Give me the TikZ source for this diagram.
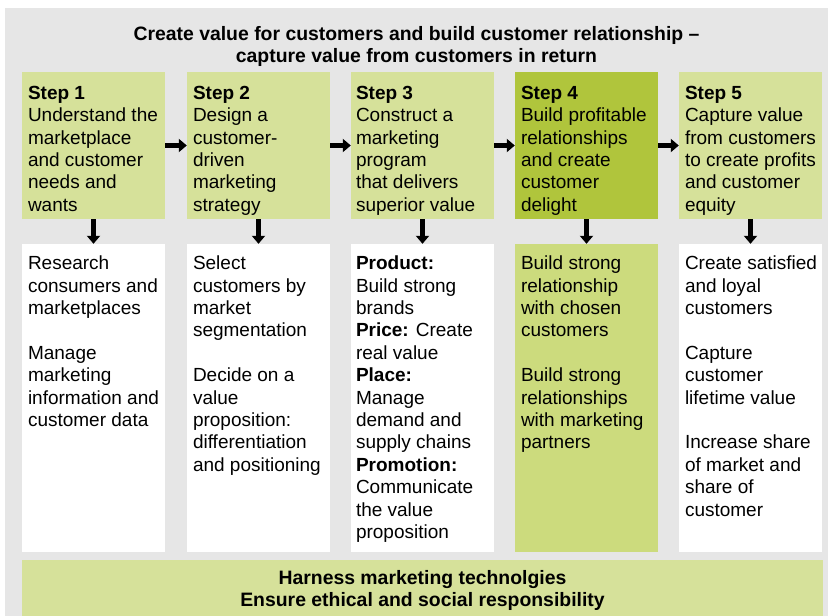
\documentclass[tikz,border=0pt]{standalone}
\usepackage{fontspec}
\setmainfont{Liberation Sans}
\usepackage{tikz}
\usetikzlibrary{positioning, arrows.meta}

\definecolor{bggray}{RGB}{230,230,230}
\definecolor{lightgreen}{RGB}{214,225,154}
\definecolor{midgreen}{RGB}{204,219,125}
\definecolor{darkgreen}{RGB}{176,197,60}

\begin{document}
\begin{tikzpicture}[x=1pt, y=-1pt,
    topbox/.style={rectangle, fill=lightgreen, minimum width=143pt, minimum height=147pt, inner sep=0pt},
    lowbox/.style={rectangle, fill=white, minimum width=143pt, minimum height=308pt, inner sep=0pt},
    boxtext/.style={align=left, inner sep=0pt, font=\fontsize{19}{22.4}\selectfont},
    headtext/.style={align=center, font=\bfseries\fontsize{19.4}{22.4}\selectfont},
    flow/.style={line width=4.5pt, -{Triangle[length=8pt, width=13pt]}}]
            \useasboundingbox (0,0) rectangle (831,616);
            \fill[bggray] (5,8) rectangle (828,616);

            \node[headtext] (title) at (416.5, 46.5) {Create value for customers and build customer relationship --\\capture value from customers in return};

            \node[topbox] (s1) at (93.5, 145.5) {};
            \node[topbox] (s2) at (258.5, 145.5) {};
            \node[topbox] (s3) at (422.5, 145.5) {};
            \node[topbox, fill=darkgreen] (s4) at (586.5, 145.5) {};
            \node[topbox] (s5) at (750.5, 145.5) {};

            \node[lowbox] (b1) at (93.5, 398) {};
            \node[lowbox] (b2) at (258.5, 398) {};
            \node[lowbox] (b3) at (422.5, 398) {};
            \node[lowbox, fill=midgreen] (b4) at (586.5, 398) {};
            \node[lowbox] (b5) at (750.5, 398) {};

            \node[boxtext, below right=14pt and 6pt of s1.north west] (t1) {\textbf{Step 1}\\Understand the\\marketplace\\and customer\\needs and\\wants};
            \node[boxtext, below right=14pt and 6pt of s2.north west] (t2) {\textbf{Step 2}\\Design a\\customer-\\driven\\marketing\\strategy};
            \node[boxtext, below right=14pt and 5pt of s3.north west] (t3) {\textbf{Step 3}\\Construct a\\marketing\\program\\that delivers\\superior value};
            \node[boxtext, below right=14pt and 6pt of s4.north west] (t4) {\textbf{Step 4}\\Build profitable\\relationships\\and create\\customer\\delight};
            \node[boxtext, below right=14pt and 6pt of s5.north west] (t5) {\textbf{Step 5}\\Capture value\\from customers\\to create profits\\and customer\\equity};

            \node[boxtext, below right=12pt and 6pt of b1.north west] (u1) {Research\\consumers and\\marketplaces\\[22.4pt]Manage\\marketing\\information and\\customer data};
            \node[boxtext, below right=12pt and 6pt of b2.north west] (u2) {Select\\customers by\\market\\segmentation\\[22.4pt]Decide on a\\value\\proposition:\\differentiation\\and positioning};
            \node[boxtext, below right=12pt and 5pt of b3.north west] (u3) {\textbf{Product:}\\Build strong\\brands\\\textbf{Price:} Create\\real value\\\textbf{Place:}\\Manage\\demand and\\supply chains\\\textbf{Promotion:}\\Communicate\\the value\\proposition};
            \node[boxtext, below right=12pt and 6pt of b4.north west] (u4) {Build strong\\relationship\\with chosen\\customers\\[22.4pt]Build strong\\relationships\\with marketing\\partners};
            \node[boxtext, below right=12pt and 6pt of b5.north west] (u5) {Create satisfied\\and loyal\\customers\\[22.4pt]Capture\\customer\\lifetime value\\[22.4pt]Increase share\\of market and\\share of\\customer};

            \node[headtext, rectangle, fill=lightgreen, minimum width=801pt, minimum height=61pt, inner sep=0pt] (base) at (422.5, 590.5) {Harness marketing technolgies\\Ensure ethical and social responsibility};

            \draw[flow] (s1) -- (s2);
            \draw[flow] (s2) -- (s3);
            \draw[flow] (s3) -- (s4);
            \draw[flow] (s4) -- (s5);
            \draw[flow] (s1) -- (b1);
            \draw[flow] (s2) -- (b2);
            \draw[flow] (s3) -- (b3);
            \draw[flow] (s4) -- (b4);
            \draw[flow] (s5) -- (b5);
        \end{tikzpicture}
\end{document}
